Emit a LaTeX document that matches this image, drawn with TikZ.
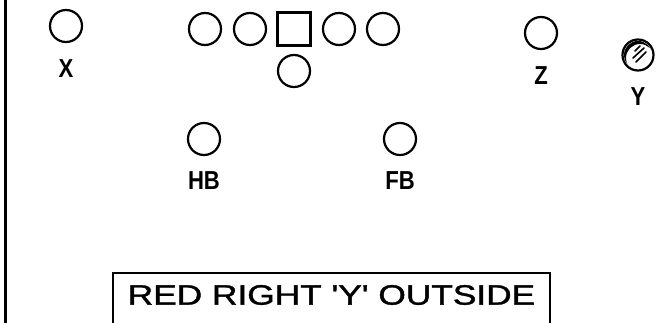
\documentclass[tikz,border=0pt]{standalone}
\usepackage{fontspec}
\setmainfont{Liberation Sans}
\newfontfamily\titlefont[FakeBold=1.2]{Liberation Sans}
\usetikzlibrary{positioning,calc}
\tikzset{
  player/.style={circle,draw,line width=2.2pt,minimum size=32pt,inner sep=0pt},
  centre/.style={rectangle,draw,line width=2.2pt,minimum size=33pt,inner sep=0pt},
  tag/.style={inner sep=0pt,font=\fontsize{26}{26}\selectfont\bfseries},
  hatch/.style={line width=1.6pt,line cap=round}
}
\begin{document}
\begin{tikzpicture}[x=1pt,y=-1pt]
\useasboundingbox (0,0) rectangle (662,323);

\draw[line width=3pt] (5,0) -- (5,323);

\node[player] (x) at (66,26) {};
\node[tag,below=16pt of x] (xlab) {\scalebox{0.85}[1]{X}};

\node[player] (lt) at (205,29) {};
\node[player] (lg) at (250,29) {};
\node[centre] (c) at (294,29) {};
\node[player] (rg) at (339,29) {};
\node[player] (rt) at (383,29) {};
\node[player] (qb) at (294,71) {};

\node[player] (z) at (541,33) {};
\node[tag,below=16pt of z] (zlab) {\scalebox{0.85}[1]{Z}};

\node[player,minimum size=31pt] (y) at (638,55) {};
\node[tag,below=16pt of y] (ylab) {\scalebox{0.85}[1]{Y}};
\begin{scope}
\clip (y.center) circle (14pt);
\fill[even odd rule] (y.center) circle (15pt) ($(y.center)+(2,3)$) circle (14pt);
\end{scope}
\draw[hatch] ($(y.center)+(-3,-4)$) -- ($(y.center)+(2,-9)$);
\draw[hatch] ($(y.center)+(-5,3)$) -- ($(y.center)+(6,-7)$);
\draw[hatch] ($(y.center)+(-2,7)$) -- ($(y.center)+(8,-3)$);

\node[player] (hb) at (204,139) {};
\node[tag,below=15pt of hb] (hblab) {\scalebox{0.85}[1]{HB}};
\node[player] (fb) at (400,139) {};
\node[tag,below=15pt of fb] (fblab) {\scalebox{0.85}[1]{FB}};

\node[inner sep=0pt,font=\fontsize{28}{28}\titlefont] (title) at (331.5,295)
  {\scalebox{1.26}[1]{RED RIGHT 'Y' OUTSIDE}};
\draw[line width=2pt] (113,323) |- (550,273) -- (550,323);
\end{tikzpicture}
\end{document}
